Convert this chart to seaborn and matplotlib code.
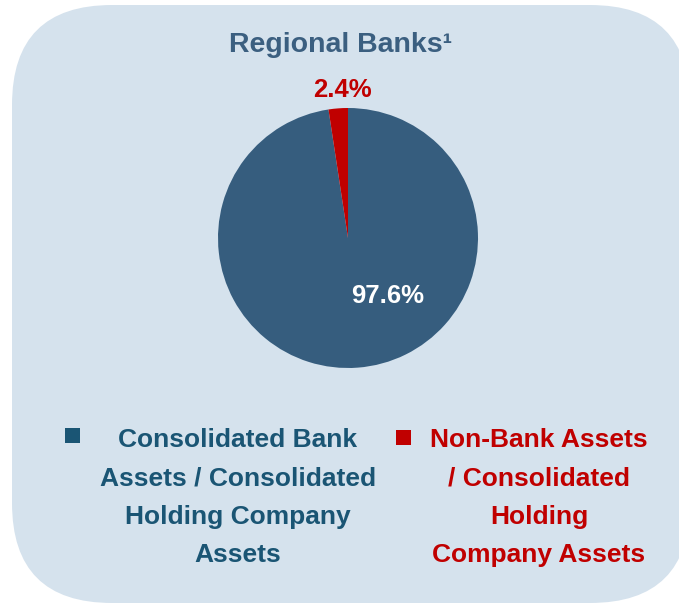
import matplotlib
matplotlib.use("Agg")
import matplotlib.pyplot as plt
import seaborn as sns
from matplotlib.patches import FancyBboxPatch, Rectangle

# data
segments = ["Consolidated Bank\nAssets / Consolidated\nHolding Company\nAssets",
            "Non-Bank Assets\n/ Consolidated\nHolding\nCompany Assets"]
shares = [97.6, 2.4]
share_labels = ["97.6%", "2.4%"]
title = "Regional Banks¹"

pie_colors = ["#365d7e", "#c00000"]
legend_colors = ["#1a5574", "#c00000"]
bg = "#d5e2ed"

sns.set_theme(style="white")
plt.rcParams["font.family"] = ["Liberation Sans", "DejaVu Sans"]

W, H = 679, 606
fig = plt.figure(figsize=(W / 100, H / 100), dpi=100)
ax = fig.add_axes([0, 0, 1, 1])

def Y(y):
    return H - y

# rounded background panel
ax.add_patch(FancyBboxPatch((12, Y(603)), 678, 598,
                            boxstyle="round,pad=0,rounding_size=100",
                            facecolor=bg, edgecolor="none", zorder=0))

ax.pie(shares, colors=pie_colors, startangle=90, counterclock=False,
       center=(348, Y(238)), radius=130,
       wedgeprops=dict(linewidth=0), frame=True)
ax.set_xlim(0, W)
ax.set_ylim(0, H)
ax.set_aspect("equal")
ax.axis("off")

ax.text(341, Y(45), title, ha="center", va="center", fontsize=20.5,
        fontweight="bold", color="#3b5f80")
ax.text(388, Y(296), share_labels[0], ha="center", va="center",
        fontsize=18.5, fontweight="bold", color="white")
ax.text(342, Y(90), share_labels[1], ha="center", va="center",
        fontsize=18.5, fontweight="bold", color="#c00000")

# legend
for sq_x, sq_y, txt_x, label, col in [(65, 428, 238, segments[0], legend_colors[0]),
                                      (396, 430, 539, segments[1], legend_colors[1])]:
    ax.add_patch(Rectangle((sq_x, Y(sq_y + 15)), 15, 15, facecolor=col,
                           edgecolor="none"))
    for i, line in enumerate(label.split("\n")):
        ax.text(txt_x, Y(440 + i * 38.3), line, ha="center", va="center",
                fontsize=19, fontweight="bold", color=col)

fig.savefig("out.png", dpi=100, facecolor="white")
